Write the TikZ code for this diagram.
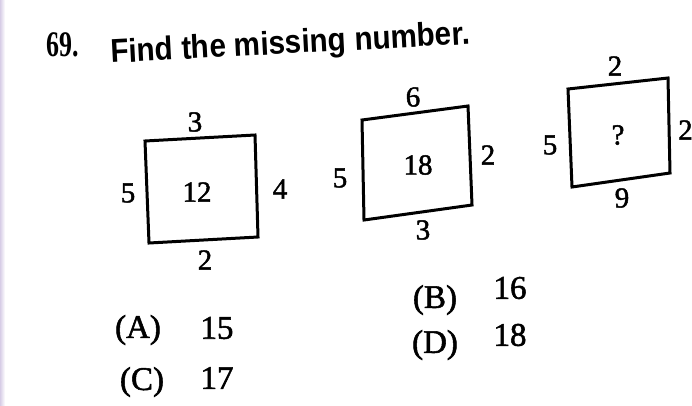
\documentclass[tikz,border=0pt]{standalone}
\usepackage{fontspec}
\setmainfont{Liberation Serif}
\newfontfamily\inkfont[FakeBold=1.6]{Liberation Serif}
\newfontfamily\titlefont{Liberation Sans}
\begin{document}
\begin{tikzpicture}[x=1pt,y=-1pt,
  box/.style={line width=3pt, line join=miter},
  num/.style={font=\inkfont\fontsize{29}{30}\selectfont, inner sep=0pt},
  opt/.style={font=\inkfont\fontsize{33}{34}\selectfont, inner sep=0pt},
  ttl/.style={font=\titlefont\bfseries\fontsize{33}{34}\selectfont, inner sep=0pt}]
\useasboundingbox (0,0) rectangle (692,405);
\fill[white] (0,0) rectangle (692,405);
\shade[left color={rgb,255:red,215;green,205;blue,230}, right color=white] (0,0) rectangle (5,405);
% title
\node[font=\bfseries\fontsize{36}{37}\selectfont, inner sep=0pt, anchor=base west, xscale=0.72] (qn) at (46,56) {69.};
\node[ttl, anchor=base west, rotate=3, xscale=0.9] (title) at (111,63) {Find the missing number.};
% box 1
\coordinate (a1) at (145,141);
\coordinate (b1) at (255,135);
\coordinate (c1) at (258,237);
\coordinate (d1) at (149,243);
\draw[box] (a1) -- (b1) -- (c1) -- (d1) -- cycle;
\node[num] (t1) at (195,122) {3};
\node[num] (l1) at (128,193) {5};
\node[num] (m1) at (197,192) {12};
\node[num] (r1) at (280,189) {4};
\node[num] (u1) at (205,260) {2};
% box 2
\coordinate (a2) at (362,120);
\coordinate (b2) at (468,106);
\coordinate (c2) at (472,205);
\coordinate (d2) at (364,220);
\draw[box] (a2) -- (b2) -- (c2) -- (d2) -- cycle;
\node[num] (t2) at (413,97) {6};
\node[num] (l2) at (340,178) {5};
\node[num] (m2) at (418,165) {18};
\node[num] (r2) at (488,155) {2};
\node[num] (u2) at (423,230) {3};
% box 3
\coordinate (a3) at (568,89);
\coordinate (b3) at (668,78);
\coordinate (c3) at (670,173);
\coordinate (d3) at (572,187);
\draw[box] (a3) -- (b3) -- (c3) -- (d3) -- cycle;
\node[num] (t3) at (615,66) {2};
\node[num] (l3) at (550,145) {5};
\node[num] (m3) at (618,135) {?};
\node[num, anchor=west] (r3) at (678,130) {2};
\node[num] (u3) at (622,198) {9};
% options
\node[opt] (oa) at (138,330) {(A)};
\node[opt] (va) at (217,328) {15};
\node[opt] (oc) at (142,382) {(C)};
\node[opt] (vc) at (217,378) {17};
\node[opt] (ob) at (435,300) {(B)};
\node[opt] (vb) at (510,288) {16};
\node[opt] (od) at (435,345) {(D)};
\node[opt] (vd) at (510,335) {18};
\end{tikzpicture}
\end{document}
